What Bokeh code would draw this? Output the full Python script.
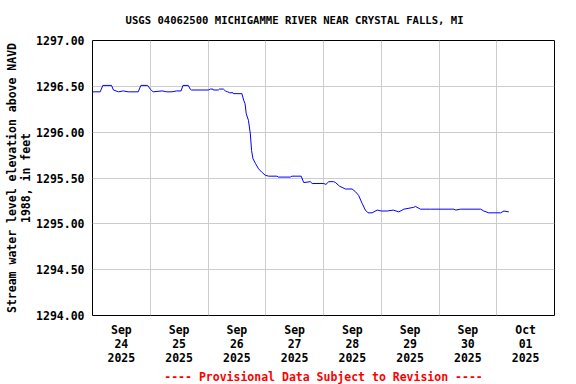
from bokeh.plotting import figure
from bokeh.models import FixedTicker, PrintfTickFormatter, Title, Range1d
from bokeh.embed import file_html
from bokeh.resources import INLINE

# hours since 2025-09-24 00:00
hours = [0, 3.2, 4.3, 7.9, 8.7, 10.8, 12.8, 14.8, 19.0, 20.1, 22.9, 24.0, 25.2, 28.9,
         30.9, 33.0, 35.0, 36.8, 37.6, 39.8, 40.6, 41.1, 48.2, 49.0, 50.1, 50.2, 52.3,
         52.7, 54.4, 55.2, 56.2, 57.0, 58.4, 58.6, 62.1, 62.8, 63.4, 63.9, 64.8, 65.6,
         66.1, 66.7, 67.7, 69.0, 70.5, 71.8, 73.2, 76.7, 77.2, 82.2, 82.9, 86.7, 87.8,
         90.5, 91.3, 96.1, 97.0, 98.2, 100.2, 101.0, 102.7, 105.1, 107.9, 109.3, 110.6,
         112.1, 113.4, 114.5, 116.2, 118.3, 120.0, 122.5, 125.0, 127.3, 129.4, 133.5,
         134.2, 136.3, 140.5, 150.2, 151.0, 152.9, 161.3, 162.6, 164.7, 169.6, 171.0, 173.0]
stage = [1296.44, 1296.44, 1296.51, 1296.51, 1296.46, 1296.44, 1296.45, 1296.44, 1296.44,
         1296.51, 1296.51, 1296.47, 1296.44, 1296.45, 1296.44, 1296.44, 1296.45, 1296.45,
         1296.51, 1296.51, 1296.47, 1296.46, 1296.46, 1296.47, 1296.47, 1296.46, 1296.46,
         1296.47, 1296.47, 1296.45, 1296.44, 1296.43, 1296.43, 1296.42, 1296.42, 1296.35,
         1296.31, 1296.20, 1296.13, 1295.98, 1295.80, 1295.71, 1295.66, 1295.60, 1295.56,
         1295.53, 1295.52, 1295.52, 1295.51, 1295.51, 1295.52, 1295.52, 1295.45, 1295.46,
         1295.44, 1295.44, 1295.43, 1295.46, 1295.46, 1295.45, 1295.41, 1295.38, 1295.38,
         1295.35, 1295.31, 1295.22, 1295.15, 1295.12, 1295.12, 1295.15, 1295.14, 1295.14,
         1295.15, 1295.13, 1295.16, 1295.18, 1295.19, 1295.16, 1295.16, 1295.16, 1295.15,
         1295.16, 1295.16, 1295.14, 1295.12, 1295.12, 1295.14, 1295.13]

x_tick_hours = [12, 36, 60, 84, 108, 132, 156, 180]
x_tick_labels = ["Sep\n24\n2025", "Sep\n25\n2025", "Sep\n26\n2025", "Sep\n27\n2025",
                 "Sep\n28\n2025", "Sep\n29\n2025", "Sep\n30\n2025", "Oct\n01\n2025"]
grid_hours = [24, 48, 72, 96, 120, 144, 168]
y_ticks = [1294.0, 1294.5, 1295.0, 1295.5, 1296.0, 1296.5, 1297.0]

title_text = "USGS 04062500 MICHIGAMME RIVER NEAR CRYSTAL FALLS, MI"
y_label = "Stream water level elevation above NAVD\n1988, in feet"
footer_text = "---- Provisional Data Subject to Revision ----"

FONT = "DejaVu Sans Mono"

p = figure(width=576, height=384, output_backend="svg", toolbar_location=None,
           x_range=Range1d(0, 192), y_range=Range1d(1294, 1297),
           min_border_left=92, min_border_right=22, min_border_top=40,
           min_border_bottom=69, background_fill_color="white",
           border_fill_color="white")
p.title.visible = False

p.line(hours, stage, line_color="#0000ff", line_width=1)

p.outline_line_color = "black"
p.outline_line_width = 1

# grids
p.xgrid.ticker = FixedTicker(ticks=grid_hours)
p.ygrid.ticker = FixedTicker(ticks=y_ticks)
for g in (p.xgrid, p.ygrid):
    g.grid_line_color = "#cccccc"
    g.grid_line_width = 1

# x axis
xa = p.xaxis[0]
xa.ticker = FixedTicker(ticks=x_tick_hours)
xa.major_label_overrides = {h: lab for h, lab in zip(x_tick_hours, x_tick_labels)}
xa.axis_line_color = None
xa.major_tick_line_color = None
xa.minor_tick_line_color = None
xa.major_tick_out = 0
xa.major_tick_in = 0
xa.minor_tick_out = 0
xa.minor_tick_in = 0
xa.major_label_standoff = 7
xa.major_label_text_font = FONT
xa.major_label_text_font_style = "bold"
xa.major_label_text_font_size = "11.5px"
xa.major_label_text_color = "black"
xa.major_label_text_line_height = 1.0

# y axis
ya = p.yaxis[0]
ya.ticker = FixedTicker(ticks=y_ticks)
ya.formatter = PrintfTickFormatter(format="%.2f")
ya.axis_line_color = None
ya.major_tick_line_color = None
ya.minor_tick_line_color = None
ya.major_tick_out = 0
ya.major_tick_in = 0
ya.minor_tick_out = 0
ya.minor_tick_in = 0
ya.major_label_standoff = 8
ya.major_label_text_font = FONT
ya.major_label_text_font_style = "bold"
ya.major_label_text_font_size = "11.5px"
ya.major_label_text_color = "black"
ya.axis_label = y_label
ya.axis_label_text_font = FONT
ya.axis_label_text_font_style = "bold"
ya.axis_label_text_font_size = "11.5px"
ya.axis_label_text_color = "black"
ya.axis_label_standoff = 0
ya.axis_label_text_line_height = 1.0

p.add_layout(Title(text=title_text, align="left", offset=33, text_font=FONT,
                   text_font_style="bold", text_font_size="10.6px",
                   text_color="black", standoff=26, vertical_align="top"), "above")
p.add_layout(Title(text=footer_text, align="center", text_font=FONT,
                   text_font_style="bold", text_font_size="11.5px",
                   text_color="red", standoff=0), "below")

open("out.html", "w").write(file_html(p, INLINE))
